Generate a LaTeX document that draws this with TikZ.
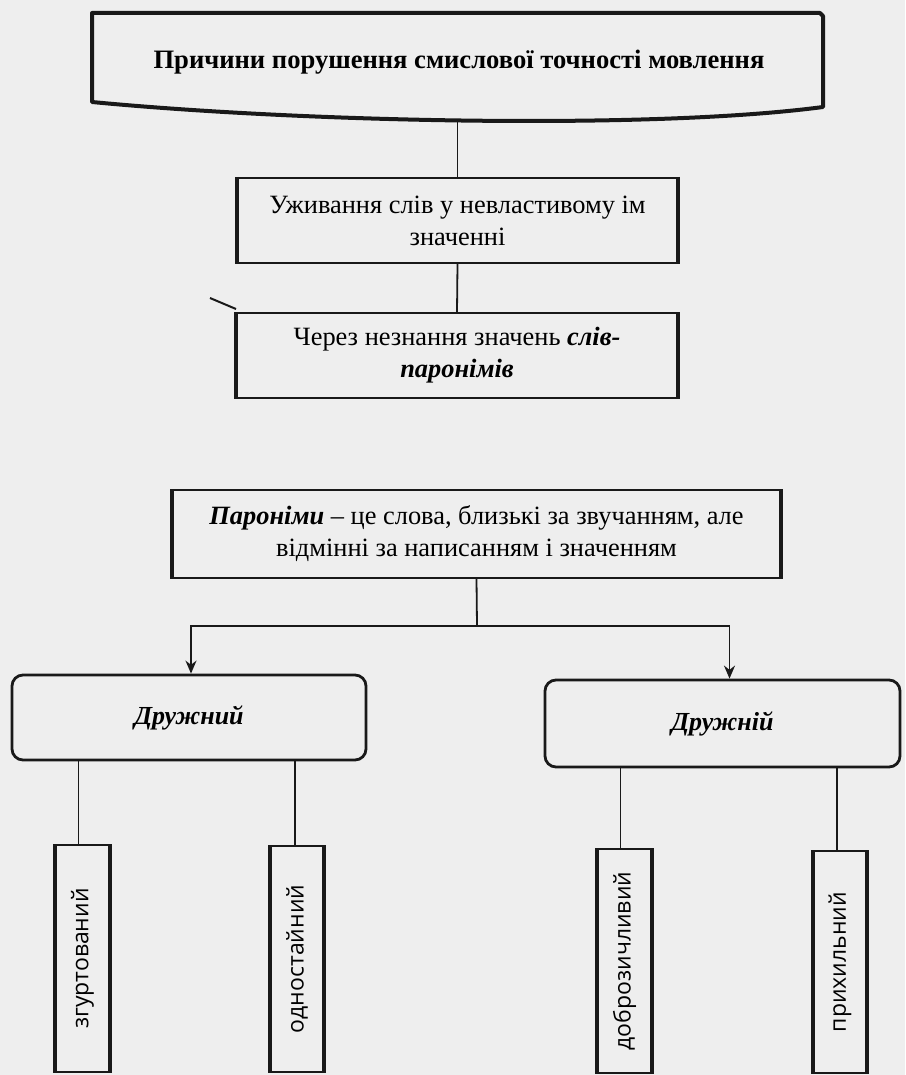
\documentclass[tikz,border=0pt]{standalone}
\usepackage{fontspec}
\setmainfont{Liberation Serif}
\newfontfamily\vfont{Open Sans}
\usetikzlibrary{arrows.meta}
\definecolor{bg}{RGB}{238,238,238}
\definecolor{ink}{RGB}{25,25,25}
\tikzset{
  boxa/.style={draw=ink, line width=2pt, fill=bg, align=center, inner sep=0pt,
    font=\fontsize{26.4}{32}\selectfont},
  sideline/.style={draw=ink, line width=4.5pt},
  rbox/.style={draw=ink, line width=2.8pt, rounded corners=11pt, fill=bg, inner sep=0pt,
    font=\fontsize{26}{30}\selectfont\bfseries\itshape},
  vbox/.style={draw=ink, line width=1.5pt, fill=bg, minimum width=53pt, inner sep=0pt,
    font=\vfont\fontsize{23}{26}\selectfont},
  conn/.style={draw=ink, line width=1.8pt},
  arr/.style={conn, -{Stealth[length=13pt,width=11pt]}},
}
\begin{document}
\begin{tikzpicture}[x=1pt,y=-1pt]
\fill[bg] (0,0) rectangle (905,1075);
\useasboundingbox (0,0) rectangle (905,1075);

% title banner
\draw[ink, line width=4pt, fill=bg, line join=round]
  (92,13) -- (820,13) to[bend left=10] (823,16) -- (823,107)
  .. controls (650,130) and (300,122) .. (92,102) -- cycle;
\node[font=\fontsize{26.6}{30}\selectfont\bfseries] (title) at (459,62)
  {Причини порушення смислової точності мовлення};
\coordinate (tb) at (457.5,122);

% boxes
\node[boxa, minimum width=439pt, minimum height=85pt] (b2) at (457.5,220.5)
  {Уживання слів у невластивому ім\\значенні};
\node[boxa, minimum width=440pt, minimum height=85pt] (b3) at (457,355.5)
  {Через незнання значень \textbf{\textit{слів-}}\\\textbf{\textit{паронімів}}};
\node[boxa, minimum width=607pt, minimum height=88pt] (b4) at (476.5,534)
  {\textbf{\textit{Пароніми}} – це слова, близькі за звучанням, але\\відмінні за написанням і значенням};
\foreach \n in {b2,b3,b4}{
  \draw[sideline] (\n.north west) -- (\n.south west);
  \draw[sideline] (\n.north east) -- (\n.south east);
}
\draw[ink, line width=2pt] (210,298) -- (236,309);

\draw[conn] (tb) -- (b2.north);
\draw[conn] (b2.south) -- (b3.north);

% split
\coordinate (jn) at (477,626);
\node[rbox, minimum width=354pt, minimum height=85pt] (d1) at (189,717.5) {Дружний};
\node[rbox, minimum width=355pt, minimum height=87pt] (d2) at (722.5,723.5) {Дружній};
\draw[conn] (b4.south) -- (jn);
\draw[arr] (jn) -| ([xshift=2pt]d1.north);
\draw[arr] (jn) -| ([xshift=7pt]d2.north);

% vertical boxes
\node[vbox, minimum height=227pt] (v1) at (82.5,958.5) {\rotatebox{90}{згуртований}};
\node[vbox, minimum height=226pt] (v2) at (297,959) {\rotatebox{90}{одностайний}};
\node[vbox, minimum height=224pt] (v3) at (624.5,961) {\rotatebox{90}{доброзичливий}};
\node[vbox, minimum height=222pt] (v4) at (840,962) {\rotatebox{90}{прихильний}};
\foreach \n in {v1,v2,v3,v4}{
  \draw[sideline, line width=4pt] (\n.north west) -- (\n.south west);
  \draw[sideline, line width=4pt] (\n.north east) -- (\n.south east);
}
\draw[conn] ([xshift=-4pt]v1.north |- d1.south) -- ([xshift=-4pt]v1.north);
\draw[conn] ([xshift=-2pt]v2.north |- d1.south) -- ([xshift=-2pt]v2.north);
\draw[conn] ([xshift=-4pt]v3.north |- d2.south) -- ([xshift=-4pt]v3.north);
\draw[conn] ([xshift=-3pt]v4.north |- d2.south) -- ([xshift=-3pt]v4.north);
\end{tikzpicture}
\end{document}
